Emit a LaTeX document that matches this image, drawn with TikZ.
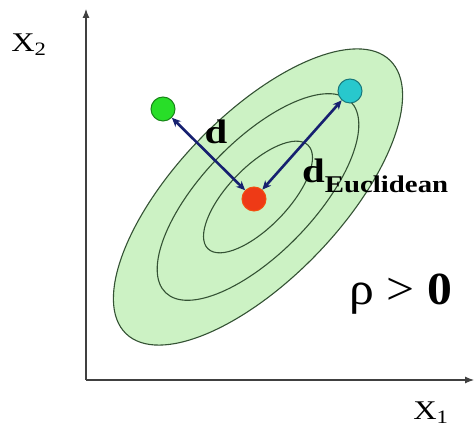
\documentclass[tikz,border=0pt]{standalone}
\usepackage{fontspec}
\setmainfont{Liberation Serif}
\usetikzlibrary{arrows.meta,positioning}

\definecolor{cloudfill}{RGB}{204,242,196}
\definecolor{cloudline}{RGB}{52,82,52}
\definecolor{distblue}{RGB}{22,32,112}
\definecolor{ptgreen}{RGB}{40,222,40}
\definecolor{ptcyan}{RGB}{40,200,205}
\definecolor{ptred}{RGB}{238,58,22}

\begin{document}
\begin{tikzpicture}[
  x=1pt, y=1pt,
  axis/.style={line width=1.1pt, black!75, -{Latex[length=9pt, width=7pt]}},
  contour/.style={draw=cloudline, line width=1.1pt},
  dot/.style={circle, minimum size=24pt, inner sep=0pt, line width=1pt},
  dist/.style={{Stealth[length=9pt, width=8pt]}-{Stealth[length=9pt, width=8pt]},
    distblue, line width=2.6pt},
  lbl/.style={inner sep=0pt, xscale=1.2, transform shape},
]
\useasboundingbox (0,0) rectangle (474,441);

% Axes
\coordinate (origin) at (86,61);
\coordinate (ytop) at (86,432);
\coordinate (xend) at (474,61);
\draw[axis] (origin) -- (ytop);
\draw[axis] (origin) -- (xend);
\node[lbl, font=\fontsize{27}{27}\selectfont] (xtwo) at (29,396) {X\textsubscript{2}};
\node[lbl, font=\fontsize{27}{27}\selectfont] (xone) at (431,28) {X\textsubscript{1}};

% Nested contours of the distribution
\coordinate (ctr) at (258,244);
\begin{scope}[rotate around={46:(ctr)}]
  \fill[cloudfill] (ctr) ellipse [x radius=190pt, y radius=82pt];
  \draw[contour] (ctr) ellipse [x radius=190pt, y radius=82pt];
  \draw[contour] (ctr) ellipse [x radius=133pt, y radius=56pt];
  \draw[contour] (ctr) ellipse [x radius=72pt, y radius=30pt];
\end{scope}

% Points
\node[dot, fill=ptred, draw=ptred!70!orange] (mean) at (254,242) {};
\node[dot, fill=ptgreen, draw=ptgreen!60!black] (ptd) at (163,332) {};
\node[dot, fill=ptcyan, draw=ptcyan!60!black] (pte) at (350,350) {};

% Distances
\draw[dist] (ptd) -- (mean);
\draw[dist] (mean) -- (pte);
\node[lbl, font=\bfseries\fontsize{34}{34}\selectfont] (dlbl) at (216,309) {d};
\node[lbl, anchor=base west, font=\bfseries\fontsize{34}{34}\selectfont] (elbl) at (302,258)
  {d\raisebox{-10pt}{\fontsize{24}{24}\selectfont Euclidean}};

% Correlation
\node[lbl, anchor=base, xscale=0.9, font=\fontsize{46}{46}\selectfont] (rho) at (401,136)
  {ρ > \textbf{0}};

\end{tikzpicture}
\end{document}
